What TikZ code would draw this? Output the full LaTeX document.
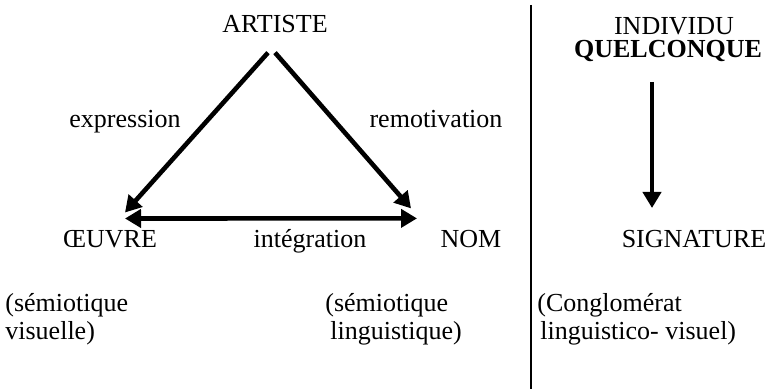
\documentclass[tikz,border=0pt]{standalone}
\usepackage{fontspec}
\setmainfont{Liberation Serif}
\usepackage{tikz}
\usetikzlibrary{arrows.meta, calc}
\tikzset{
	every node/.style={
		font=\fontsize{13}{14}\selectfont,
		inner sep=0pt
	},
	sommet/.style={
		anchor=base
	},
	legende/.style={
		anchor=north west,
		align=left
	},
	fleche/.style={
		-{Triangle[length=8pt,width=9pt]},
		line width=2.3pt
	},
	doublefleche/.style={
		{Triangle[length=8pt,width=9pt]}-{Triangle[length=8pt,width=9pt]},
		line width=2.3pt
	},
	separateur/.style={
		line width=1.2pt
	}
}

\begin{document}
\begin{tikzpicture}[x=0.5pt,y=-0.5pt]
	
	\useasboundingbox (0,0) rectangle (769,389);
	
	% triangle
	\node[sommet] (artiste) at (275,33) {ARTISTE};
	\node[sommet] (oeuvre) at (110,248) {ŒUVRE};
	\node[sommet] (nom) at (471,248) {NOM};
	
	\node[sommet] (expression) at (125,128) {expression};
	\node[sommet] (remotivation) at (436,128) {remotivation};
	\node[sommet] (integration) at (310,248) {intégration};
	
	\draw[fleche] ([shift={(-7,19)}]artiste.south) -- ([shift={(15,-18)}]oeuvre.north);
	\draw[fleche] ([shift={(0,19)}]artiste.south) -- ([shift={(-60,-22)}]nom.north);
	\draw[doublefleche] ([shift={(15,-12)}]oeuvre.north) -- ([shift={(-54,-12)}]nom.north);
	
	\node[legende] (visuelle) at (5,293) {(sémiotique\\visuelle)};
	\node[legende] (linguistique) at (325,293) {(sémiotique\\\hspace{2.5pt}linguistique)};
	
	% separation
	\draw[separateur] (531,5) -- (531,389);
	
	% signature
	\node[sommet] (individu) at (674,35) {INDIVIDU};
	\node[sommet] (quelconque) at (668,58) {\bfseries QUELCONQUE};
	\node[sommet] (signature) at (694,248) {SIGNATURE};
	
	\draw[fleche] ([shift={(-16,24)}]quelconque.base) -- ([shift={(-42,-40)}]signature.base);
	
	\node[legende] (conglomerat) at (537,293) {(Conglomérat\\\hspace{1.5pt}linguistico- visuel)};
	
\end{tikzpicture}
\end{document}
